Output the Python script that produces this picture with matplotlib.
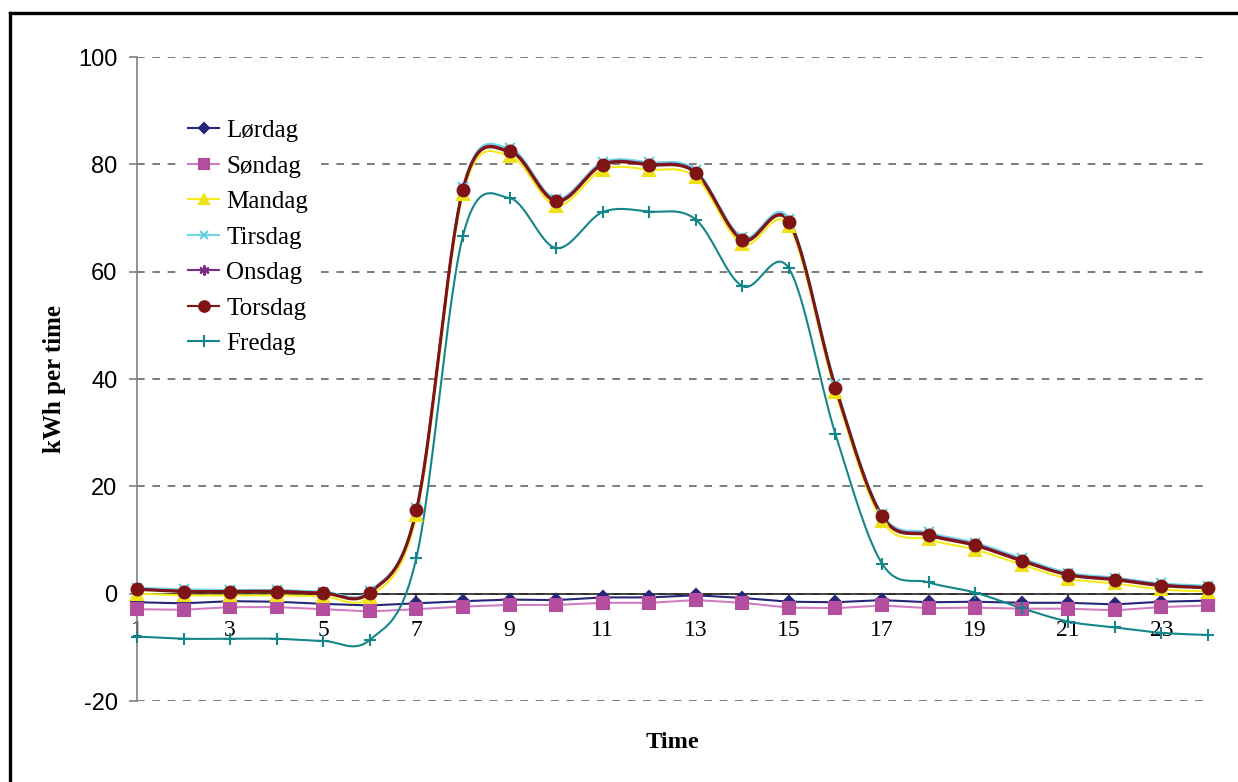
import numpy as np
import matplotlib
matplotlib.use("Agg")
import matplotlib.pyplot as plt
from matplotlib.lines import Line2D

plt.rcParams["axes.unicode_minus"] = False

# timer 1-24
hours = list(range(1, 25))
tick_hours = list(range(1, 24, 2))

lordag = [-1.6, -1.8, -1.4, -1.5, -1.9, -2.2, -1.8, -1.4, -1.1, -1.2, -0.7, -0.7,
          -0.3, -0.8, -1.5, -1.6, -1.2, -1.6, -1.5, -1.7, -1.7, -2.0, -1.5, -1.3]
sondag = [-2.9, -3.0, -2.5, -2.5, -2.9, -3.3, -2.9, -2.4, -2.1, -2.1, -1.7, -1.7,
          -1.2, -1.7, -2.6, -2.7, -2.2, -2.7, -2.6, -2.8, -2.8, -3.1, -2.5, -2.2]
mandag = [0.0, -0.3, -0.3, -0.3, -0.5, -0.6, 14.6, 74.5, 81.6, 72.3, 79.0, 79.0,
          77.6, 65.1, 68.5, 37.6, 13.6, 10.1, 8.2, 5.4, 2.8, 1.9, 0.8, 0.4]
tirsdag = [1.1, 0.8, 0.7, 0.7, 0.4, 0.5, 15.9, 75.8, 83.0, 73.6, 80.4, 80.4,
           78.9, 66.4, 69.9, 39.0, 14.9, 11.4, 9.5, 6.6, 3.9, 3.0, 1.9, 1.5]
onsdag = [0.9, 0.5, 0.5, 0.5, 0.2, 0.3, 15.6, 75.5, 82.6, 73.3, 80.1, 80.1,
          78.6, 66.1, 69.5, 38.6, 14.6, 11.1, 9.2, 6.3, 3.6, 2.8, 1.7, 1.2]
torsdag = [0.8, 0.4, 0.4, 0.4, 0.1, 0.2, 15.5, 75.3, 82.4, 73.1, 79.9, 79.9,
           78.4, 65.9, 69.3, 38.4, 14.4, 10.9, 9.0, 6.1, 3.5, 2.6, 1.5, 1.1]
fredag = [-8.0, -8.4, -8.4, -8.4, -8.8, -8.6, 6.7, 66.7, 73.7, 64.4, 71.1, 71.2,
          69.7, 57.3, 60.6, 29.7, 5.6, 2.1, 0.2, -2.7, -5.2, -6.3, -7.3, -7.7]


def smooth(x, y, steps=20):
    """Catmull-Rom kurve gjennom punktene (som glattet linje i Excel)"""
    x = np.asarray(x, float)
    y = np.asarray(y, float)
    px = np.concatenate([[x[0]], x, [x[-1]]])
    py = np.concatenate([[y[0]], y, [y[-1]]])
    t = np.linspace(0, 1, steps)[:, None]
    xs, ys = [], []
    for i in range(1, len(px) - 2):
        p0 = np.array([px[i], py[i]])
        p3 = np.array([px[i + 1], py[i + 1]])
        p1 = p0 + (np.array([px[i + 1], py[i + 1]]) - np.array([px[i - 1], py[i - 1]])) / 6
        p2 = p3 - (np.array([px[i + 2], py[i + 2]]) - np.array([px[i], py[i]])) / 6
        pts = ((1 - t) ** 3 * p0 + 3 * (1 - t) ** 2 * t * p1
               + 3 * (1 - t) * t ** 2 * p2 + t ** 3 * p3)
        xs.append(pts[:, 0])
        ys.append(pts[:, 1])
    return np.concatenate(xs), np.concatenate(ys)


serif = "Liberation Serif"
sans = "Liberation Sans"

fig = plt.figure(figsize=(12.38, 7.82), dpi=100)
ax = fig.add_axes([137 / 1238, 1 - 701 / 782, (1208 - 137) / 1238, (701 - 57) / 782])

series = [
    ("Lørdag", lordag, "#26267a", "#26267a", "D", 6, False),
    ("Søndag", sondag, "#d07cc0", "#b44f9f", "s", 8, False),
    ("Mandag", mandag, "#f5ea1c", "#f0e21a", "^", 8, True),
    ("Tirsdag", tirsdag, "#6fd6e6", "#5ccfe0", "x", 7, True),
    ("Onsdag", onsdag, "#7b2a86", "#7b2a86", (6, 2, 0), 8, True),
    ("Torsdag", torsdag, "#7f1414", "#7f1414", "o", 8.5, True),
    ("Fredag", fredag, "#14868a", "#14868a", "+", 9, True),
]

handles = []
for name, vals, lc, mc, marker, ms, smoothed in series:
    if smoothed:
        sx, sy = smooth(hours, vals)
    else:
        sx, sy = hours, vals
    lw = 2.2 if name == "Torsdag" else 1.5
    ax.plot(sx, sy, color=lc, lw=lw, zorder=3, clip_on=False)
    ax.plot(hours, vals, linestyle="none", marker=marker, ms=ms, color=mc,
            mec=mc, mew=1.5, zorder=4, clip_on=False)
    handles.append(Line2D([], [], color=lc, lw=1.5, marker=marker, ms=ms * 0.9,
                          mfc=mc, mec=mc, mew=1.5))

ax.set_xlim(1, 24)
ax.set_ylim(-20, 100)
ax.set_yticks(range(-20, 101, 20))
ax.set_xticks(tick_hours)

ax.yaxis.grid(True, linestyle=(0, (4.6, 4.6)), color="#666666", lw=1.2)
ax.set_axisbelow(True)

for s in ["top", "right"]:
    ax.spines[s].set_visible(False)
ax.spines["left"].set_color("#808080")
ax.spines["left"].set_linewidth(1.2)
ax.spines["bottom"].set_position(("data", 0))
ax.spines["bottom"].set_color("#222222")
ax.spines["bottom"].set_linewidth(1.2)
ax.spines["bottom"].set_zorder(2)

ax.tick_params(axis="y", direction="out", length=6, width=1.2, color="#808080",
               labelsize=17, pad=8)
ax.tick_params(axis="x", direction="out", length=6, width=1.2, color="#222222",
               labelsize=17, pad=13)
for lab in ax.get_yticklabels():
    lab.set_fontfamily(sans)
for lab in ax.get_xticklabels():
    lab.set_fontfamily(serif)

ax.set_ylabel("kWh per time", fontfamily=serif, fontweight="bold", fontsize=18)
ax.yaxis.set_label_coords(-0.0795 + 14 / 1071, 0.5)
fig.text(672 / 1238, 1 - 743 / 782, "Time", fontfamily=serif, fontweight="bold",
         fontsize=17.5, ha="center", va="center")

leg = ax.legend(handles, [s[0] for s in series], loc="upper left",
                bbox_to_anchor=(0.029, 0.934), frameon=True, fancybox=False,
                edgecolor="none", facecolor="white", framealpha=1.0,
                prop={"family": serif, "size": 18}, handlelength=1.25,
                handletextpad=0.28, labelspacing=0.52, borderpad=0.3)
leg.set_zorder(5)

# ytre ramme
fig.add_artist(Line2D([10 / 1238, 10 / 1238], [1 - 13 / 782, 0], color="black",
                      lw=2.4, transform=fig.transFigure))
fig.add_artist(Line2D([10 / 1238, 1], [1 - 13 / 782, 1 - 13 / 782], color="black",
                      lw=2.4, transform=fig.transFigure))

fig.savefig("out.png", dpi=100)
